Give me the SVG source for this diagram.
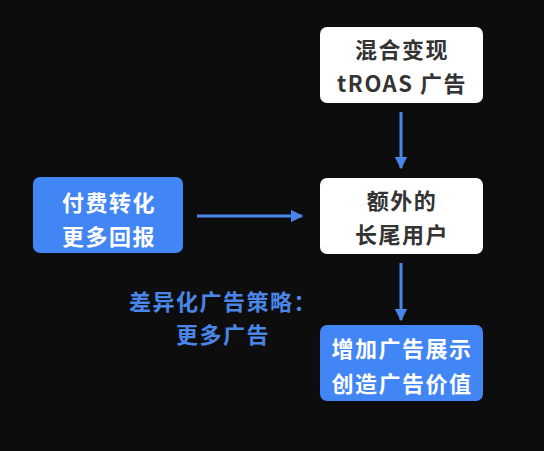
<svg xmlns="http://www.w3.org/2000/svg" width="544" height="451" viewBox="0 0 544 451">
<defs>
<style>
.t{font-family:"Noto Sans CJK SC","Noto Sans",sans-serif;font-weight:700;font-size:22px;letter-spacing:1.5px;text-anchor:middle;dominant-baseline:central}
.w{fill:#333333}
.b{fill:#ffffff}
.l{fill:#4a86e8}
.c{stroke:#4a86e8;stroke-width:3;fill:none}
</style>
<marker id="ah" viewBox="0 0 10 10" refX="9" refY="5" markerWidth="4.2" markerHeight="4.2" orient="auto" markerUnits="strokeWidth">
<path d="M0,0 L10,5 L0,10 Z" fill="#4a86e8"/>
</marker>
</defs>
<rect width="544" height="451" fill="#0d0d0d"/>
<g id="n1">
<rect x="320" y="27" width="163" height="76" rx="7" fill="#ffffff"/>
<text class="t w" x="402" y="48">混合变现</text>
<text class="t w" x="402" y="82">tROAS 广告</text>
</g>
<g id="n2">
<rect x="320" y="178" width="163" height="76" rx="7" fill="#ffffff"/>
<text class="t w" x="402" y="199">额外的</text>
<text class="t w" x="402" y="233">长尾用户</text>
</g>
<g id="n3">
<rect x="33" y="177" width="150" height="76" rx="7" fill="#4285f4"/>
<text class="t b" x="109" y="201">付费转化</text>
<text class="t b" x="109" y="235">更多回报</text>
</g>
<g id="n4">
<rect x="320" y="325" width="163" height="76" rx="7" fill="#4285f4"/>
<text class="t b" x="402" y="347">增加广告展示</text>
<text class="t b" x="402" y="382">创造广告价值</text>
</g>
<g id="label">
<text class="t l" x="223" y="300">差异化广告策略：</text>
<text class="t l" x="223" y="333">更多广告</text>
</g>
<g id="connectors">
<line class="c" x1="401" y1="112" x2="401" y2="168" marker-end="url(#ah)"/>
<line class="c" x1="197" y1="216" x2="302" y2="216" marker-end="url(#ah)"/>
<line class="c" x1="401" y1="263" x2="401" y2="320" marker-end="url(#ah)"/>
</g>
</svg>
